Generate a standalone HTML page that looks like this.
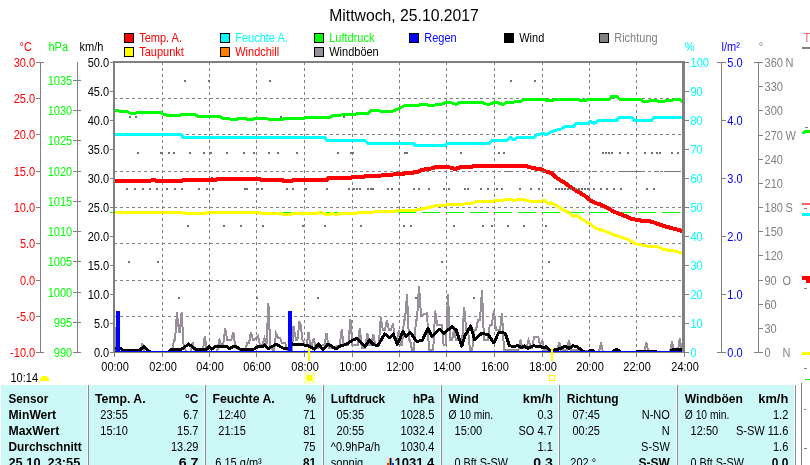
<!DOCTYPE html>
<html><head><meta charset="utf-8"><title>Mittwoch, 25.10.2017</title>
<style>
html,body{margin:0;padding:0;background:#fff;overflow:hidden}
svg{display:block;font-family:"Liberation Sans",Arial,sans-serif}
polyline,line,rect,circle,path{shape-rendering:crispEdges}
</style></head><body>
<svg width="810" height="465" viewBox="0 0 810 465">
<text x="404" y="20.6" fill="#000" font-size="16" text-anchor="middle" textLength="149.50" lengthAdjust="spacingAndGlyphs">Mittwoch, 25.10.2017</text>
<rect x="124.5" y="33.5" width="9" height="9" fill="#FF0000" stroke="#000" stroke-width="1"/>
<text x="139.2" y="42" fill="#FF0000" font-size="12.5" text-anchor="start" textLength="42.83" lengthAdjust="spacingAndGlyphs">Temp. A.</text>
<rect x="220.5" y="33.5" width="9" height="9" fill="#00FFFF" stroke="#000" stroke-width="1"/>
<text x="235.2" y="42" fill="#00FFFF" font-size="12.5" text-anchor="start" textLength="52.64" lengthAdjust="spacingAndGlyphs">Feuchte A.</text>
<rect x="314.5" y="33.5" width="9" height="9" fill="#00FF00" stroke="#000" stroke-width="1"/>
<text x="329.2" y="42" fill="#00FF00" font-size="12.5" text-anchor="start" textLength="45.28" lengthAdjust="spacingAndGlyphs">Luftdruck</text>
<rect x="409.5" y="33.5" width="9" height="9" fill="#0000FF" stroke="#000" stroke-width="1"/>
<text x="424.2" y="42" fill="#0000FF" font-size="12.5" text-anchor="start" textLength="32.44" lengthAdjust="spacingAndGlyphs">Regen</text>
<rect x="504.5" y="33.5" width="9" height="9" fill="#000" stroke="#000" stroke-width="1"/>
<text x="519.2" y="42" fill="#000" font-size="12.5" text-anchor="start" textLength="25.06" lengthAdjust="spacingAndGlyphs">Wind</text>
<rect x="599.5" y="33.5" width="9" height="9" fill="#808080" stroke="#000" stroke-width="1"/>
<text x="614.2" y="42" fill="#808080" font-size="12.5" text-anchor="start" textLength="43.44" lengthAdjust="spacingAndGlyphs">Richtung</text>
<rect x="124.5" y="47.5" width="9" height="9" fill="#FFFF00" stroke="#000" stroke-width="1"/>
<text x="139.2" y="56" fill="#FF0000" font-size="12.5" text-anchor="start" textLength="44.69" lengthAdjust="spacingAndGlyphs">Taupunkt</text>
<rect x="220.5" y="47.5" width="9" height="9" fill="#FF8000" stroke="#000" stroke-width="1"/>
<text x="235.2" y="56" fill="#FF0000" font-size="12.5" text-anchor="start" textLength="44.00" lengthAdjust="spacingAndGlyphs">Windchill</text>
<rect x="314.5" y="47.5" width="9" height="9" fill="#978F99" stroke="#000" stroke-width="1"/>
<text x="329.2" y="56" fill="#000" font-size="12.5" text-anchor="start" textLength="49.56" lengthAdjust="spacingAndGlyphs">Windböen</text>
<line x1="114" y1="98.5" x2="682" y2="98.5" stroke="#808080" stroke-width="1" stroke-dasharray="3 3" stroke-linecap="butt"/>
<line x1="114" y1="134.5" x2="682" y2="134.5" stroke="#808080" stroke-width="1" stroke-dasharray="3 3" stroke-linecap="butt"/>
<line x1="114" y1="171.5" x2="682" y2="171.5" stroke="#808080" stroke-width="1" stroke-dasharray="3 3" stroke-linecap="butt"/>
<line x1="114" y1="207.5" x2="682" y2="207.5" stroke="#808080" stroke-width="1" stroke-dasharray="3 3" stroke-linecap="butt"/>
<line x1="114" y1="243.5" x2="682" y2="243.5" stroke="#808080" stroke-width="1" stroke-dasharray="3 3" stroke-linecap="butt"/>
<line x1="114" y1="280.5" x2="682" y2="280.5" stroke="#808080" stroke-width="1" stroke-dasharray="3 3" stroke-linecap="butt"/>
<line x1="114" y1="316.5" x2="682" y2="316.5" stroke="#808080" stroke-width="1" stroke-dasharray="3 3" stroke-linecap="butt"/>
<line x1="162.5" y1="62" x2="162.5" y2="352" stroke="#808080" stroke-width="1" stroke-dasharray="3 3" stroke-linecap="butt"/>
<line x1="209.5" y1="62" x2="209.5" y2="352" stroke="#808080" stroke-width="1" stroke-dasharray="3 3" stroke-linecap="butt"/>
<line x1="256.5" y1="62" x2="256.5" y2="352" stroke="#808080" stroke-width="1" stroke-dasharray="3 3" stroke-linecap="butt"/>
<line x1="304.5" y1="62" x2="304.5" y2="352" stroke="#808080" stroke-width="1" stroke-dasharray="3 3" stroke-linecap="butt"/>
<line x1="352.5" y1="62" x2="352.5" y2="352" stroke="#808080" stroke-width="1" stroke-dasharray="3 3" stroke-linecap="butt"/>
<line x1="399.5" y1="62" x2="399.5" y2="352" stroke="#808080" stroke-width="1" stroke-dasharray="3 3" stroke-linecap="butt"/>
<line x1="446.5" y1="62" x2="446.5" y2="352" stroke="#808080" stroke-width="1" stroke-dasharray="3 3" stroke-linecap="butt"/>
<line x1="494.5" y1="62" x2="494.5" y2="352" stroke="#808080" stroke-width="1" stroke-dasharray="3 3" stroke-linecap="butt"/>
<line x1="542.5" y1="62" x2="542.5" y2="352" stroke="#808080" stroke-width="1" stroke-dasharray="3 3" stroke-linecap="butt"/>
<line x1="589.5" y1="62" x2="589.5" y2="352" stroke="#808080" stroke-width="1" stroke-dasharray="3 3" stroke-linecap="butt"/>
<line x1="636.5" y1="62" x2="636.5" y2="352" stroke="#808080" stroke-width="1" stroke-dasharray="3 3" stroke-linecap="butt"/>
<line x1="110" y1="212.5" x2="682" y2="212.5" stroke="#00FF00" stroke-width="1" stroke-dasharray="18 6" stroke-linecap="butt"/>
<defs><clipPath id="pc2"><rect x="115" y="63" width="567" height="289"/></clipPath></defs>
<g clip-path="url(#pc2)">
<polyline points="114.0,352.0 115.0,327.0 116.0,352.0 139.0,352.0 140.3,352.0 142.3,343.4 144.3,352.0 145.0,352.0 172.0,352.0 174.0,340.0 175.0,340.0 177.0,312.4 179.0,332.4 179.7,332.4 181.6,312.4 183.6,345.0 184.2,345.0 186.0,352.0 190.0,352.0 190.6,352.0 192.6,342.7 195.0,352.0 202.0,352.0 202.8,352.0 204.8,336.3 207.0,352.0 217.0,352.0 219.4,340.0 221.4,345.0 222.0,345.0 223.2,345.0 225.2,327.9 227.2,340.0 228.4,340.0 231.3,340.0 233.3,331.8 235.5,348.0 245.0,352.0 247.0,343.4 249.0,343.4 251.0,331.8 253.0,340.0 254.2,340.0 258.0,336.3 260.0,345.0 261.0,345.0 262.5,345.0 264.5,338.2 266.5,345.0 268.4,303.4 270.3,348.0 273.0,350.0 274.1,350.0 276.1,333.5 278.1,338.0 280.0,338.0 282.0,343.0 285.2,343.0 287.2,350.0 288.0,350.0 292.0,350.0 293.5,326.0 296.0,340.0 297.4,340.0 299.4,322.0 300.3,322.6 302.5,340.0 305.0,345.0 306.6,345.0 308.6,331.7 310.0,345.0 311.8,345.0 313.8,338.0 315.8,348.0 317.6,348.0 323.0,345.0 324.6,345.0 326.6,332.9 328.6,348.0 331.1,348.0 338.0,346.0 339.7,346.0 341.7,329.4 343.7,345.0 344.7,345.0 348.4,345.0 350.4,318.9 352.4,345.0 353.7,345.0 357.8,345.0 359.8,327.9 361.8,348.0 364.3,348.0 365.3,348.0 367.3,333.2 369.3,345.0 370.0,345.0 371.3,345.0 373.3,334.0 375.3,345.0 377.0,345.0 378.8,345.0 380.8,317.4 382.8,330.0 384.0,330.0 384.9,330.0 386.9,320.4 388.9,330.0 390.0,330.0 390.9,330.0 392.9,323.4 395.0,340.0 396.9,340.0 398.9,330.0 401.0,345.0 402.0,345.0 404.0,320.0 405.0,320.0 407.0,294.5 409.0,340.0 410.0,340.0 412.0,350.0 413.4,350.0 414.0,350.0 416.0,320.0 417.0,320.0 419.0,285.6 421.0,315.0 422.3,315.0 427.0,313.0 429.0,350.0 430.3,350.0 433.2,350.0 435.2,310.6 437.2,325.0 441.6,325.0 443.6,345.0 444.8,345.0 446.0,345.0 448.0,293.7 450.0,340.0 451.3,340.0 452.0,340.0 454.0,330.0 456.0,340.0 457.7,340.0 462.2,340.0 464.2,307.4 466.2,330.0 468.0,330.0 470.0,350.0 472.3,350.0 473.9,330.0 476.0,330.0 478.0,320.0 480.0,320.0 482.0,289.7 484.0,340.0 485.2,340.0 487.8,340.0 489.8,325.0 491.9,325.0 493.9,309.8 495.9,330.0 497.9,330.0 500.0,330.0 502.0,313.0 504.0,350.0 506.0,350.0 515.0,350.0 518.5,350.0 520.5,339.7 522.5,348.0 524.0,348.0 526.5,348.0 528.5,340.0 531.0,348.0 532.2,348.0 534.2,336.5 538.2,336.5 540.0,345.0 542.3,340.5 544.3,350.0 545.0,350.0 556.0,350.0 557.2,350.0 559.2,342.0 561.2,350.0 562.0,350.0 566.0,350.0 566.9,350.0 568.9,340.5 571.0,350.0 598.0,352.0 599.0,352.0 601.0,342.3 603.0,352.0 604.0,352.0 643.0,352.0 644.3,352.0 646.3,342.3 648.3,352.0 649.0,352.0 669.0,352.0 670.0,352.0 672.0,341.0 674.0,352.0 675.0,352.0 677.0,352.0 677.8,352.0 679.8,338.5 682.0,352.0" fill="none" stroke="#978F99" stroke-width="2" stroke-linejoin="miter" stroke-linecap="butt"/>
</g>
<defs><clipPath id="pc"><rect x="115" y="63" width="567" height="289"/></clipPath></defs><g clip-path="url(#pc)">
<polyline points="114.0,134.6 181.0,134.6 183.0,137.2 324.7,137.2 327.0,140.5 365.3,140.5 368.0,143.2 413.0,143.4 416.0,145.8 444.3,145.8 447.0,143.4 489.3,143.4 492.0,140.3 507.0,140.3 510.4,137.2 513.8,140.0 517.3,137.2 534.6,137.2 537.0,134.8 543.0,133.4 546.7,134.8 550.0,132.5 555.3,130.3 561.4,129.0 564.8,126.8 573.5,126.8 576.0,123.4 588.0,123.4 590.0,121.3 594.2,123.4 598.5,120.6 616.7,120.4 619.4,117.2 631.7,117.2 634.0,120.3 651.7,120.3 654.4,117.2 683.0,117.2" fill="none" stroke="#00FFFF" stroke-width="3" stroke-linejoin="round" stroke-linecap="round"/>
<polyline points="114.0,110.4 118.0,110.4 120.0,111.6 127.0,111.6 130.0,113.0 136.0,113.0 138.0,112.0 160.0,112.0 163.0,114.0 167.0,115.2 180.0,115.2 182.0,114.2 194.0,114.2 198.0,116.3 220.0,116.3 222.0,118.0 228.0,118.0 231.0,119.4 237.0,119.4 239.6,118.0 245.0,118.0 247.0,119.4 253.0,119.4 255.5,118.0 266.0,118.0 269.4,119.7 283.0,119.7 285.0,118.0 305.0,118.0 309.0,117.3 330.0,117.3 333.0,115.6 340.0,115.6 342.0,114.5 355.0,114.5 357.5,113.3 368.0,113.3 371.3,110.7 380.0,111.0 385.6,111.3 393.0,111.0 397.6,109.2 402.0,107.0 404.6,105.7 418.0,105.7 420.0,104.4 426.0,104.4 428.8,105.4 434.0,105.4 437.4,104.0 442.0,104.0 446.0,102.3 450.0,102.3 454.7,104.0 457.0,104.0 460.0,102.3 482.3,102.3 485.8,104.0 490.0,104.0 492.7,102.8 498.0,102.8 501.4,104.0 504.0,104.0 507.0,102.3 513.0,102.3 515.6,101.4 521.0,101.4 524.2,99.2 545.0,99.2 547.0,100.9 552.0,100.9 555.3,99.2 577.8,99.2 580.0,100.2 586.0,100.2 588.0,99.2 609.4,99.2 611.7,96.1 616.7,96.1 619.4,99.2 640.0,99.2 642.8,101.1 648.9,101.1 651.0,100.0 655.6,100.0 657.8,101.1 665.0,101.1 666.7,100.0 673.3,100.0 674.4,99.2 680.0,99.2 682.8,101.7" fill="none" stroke="#00FF00" stroke-width="3" stroke-linejoin="round" stroke-linecap="round"/>
<polyline points="114.0,212.2 181.7,212.2 183.0,213.0 206.8,213.0 208.0,212.0 210.0,213.0 212.0,212.0 214.0,213.0 215.0,212.2 260.0,212.2 261.0,213.2 282.0,213.2 283.0,214.2 291.0,214.2 292.0,213.2 318.0,213.2 320.0,212.0 322.0,213.2 325.0,214.2 330.0,214.2 331.0,213.2 335.0,214.2 338.0,214.2 339.0,213.2 357.0,213.2 359.0,212.0 362.0,213.0 365.0,212.5 370.0,212.2 387.0,211.4 400.2,210.8 413.2,210.8 418.4,209.6 427.0,207.9 435.7,205.7 446.0,205.0 456.4,204.4 472.0,203.6 475.4,201.8 491.0,201.2 500.0,200.6 507.5,199.4 512.0,199.7 515.0,201.0 518.0,199.4 524.0,199.6 528.6,201.0 542.2,201.0 544.4,200.2 548.2,203.5 551.2,202.9 556.5,205.5 563.3,210.0 569.3,213.0 573.8,216.4 576.8,215.5 582.8,219.8 590.4,224.0 596.0,228.4 603.6,230.7 611.0,233.7 620.1,237.0 629.2,239.7 634.4,243.5 647.2,246.0 657.8,246.9 663.8,249.5 674.3,251.0 682.6,253.3" fill="none" stroke="#FFFF00" stroke-width="3" stroke-linejoin="round" stroke-linecap="round"/>
<polyline points="114.0,181.0 150.0,181.0 152.0,180.0 155.0,180.0 156.0,181.0 181.7,181.0 183.0,180.2 210.0,180.2 212.0,179.0 214.0,180.2 216.0,180.0 218.0,178.8 259.9,178.8 261.0,179.9 282.3,179.9 283.0,180.7 291.8,180.7 293.0,180.0 326.4,180.0 328.0,178.1 350.6,178.1 352.0,177.3 363.6,177.3 365.0,176.4 374.0,176.4 376.0,175.6 380.4,175.6 390.7,174.7 407.0,173.3 417.5,172.0 421.8,169.9 430.5,168.7 436.5,166.8 446.0,166.8 451.2,167.8 455.5,169.0 459.9,167.3 472.0,167.0 473.7,165.9 525.6,165.8 530.0,167.3 536.0,168.6 541.4,169.3 545.2,171.3 551.2,173.0 557.2,178.3 564.8,182.9 572.3,188.4 578.3,191.9 584.3,195.4 590.4,200.3 596.4,203.3 600.5,204.6 606.6,207.3 614.1,211.8 620.1,214.1 626.1,216.4 630.7,218.6 636.7,219.8 642.7,220.9 651.7,221.6 657.8,223.9 663.8,226.1 672.8,228.4 682.6,231.0" fill="none" stroke="#FF0000" stroke-width="4" stroke-linejoin="round" stroke-linecap="round"/>
<polyline points="114.0,348.5 121.0,348.5 123.0,350.8 139.0,350.8 143.8,346.6 148.7,350.8 151.0,352.5 168.0,352.5 170.6,350.5 172.0,349.0 182.0,349.0 188.7,344.0 195.0,349.0 207.0,349.0 209.0,346.6 211.6,349.0 216.0,346.0 225.8,346.0 229.7,348.5 234.8,346.0 240.0,349.0 254.2,349.0 258.0,346.4 263.2,346.4 264.5,344.7 268.4,348.5 276.0,344.3 282.6,347.9 287.7,349.0 292.0,343.8 295.0,344.5 307.0,345.2 314.6,349.0 318.3,344.0 322.9,349.5 328.1,344.0 335.7,349.0 340.2,346.0 346.2,344.5 352.2,340.4 356.7,338.5 365.0,346.7 369.5,340.0 373.3,344.5 377.8,346.0 384.6,334.0 389.9,337.7 393.2,334.0 397.3,344.5 402.9,331.6 406.1,336.5 410.2,332.4 416.6,341.3 422.3,340.5 427.9,328.4 431.9,336.5 439.2,329.2 444.0,333.2 452.0,326.8 456.1,330.0 461.8,346.1 465.0,335.6 470.6,326.0 474.7,339.7 481.9,333.2 488.2,334.8 493.9,342.9 498.7,332.4 505.2,333.2 509.2,345.3 513.2,347.0 518.0,345.3 521.3,347.7 524.5,346.0 527.7,348.5 533.4,345.8 539.8,346.5 543.9,347.7 546.3,346.5 549.5,350.2 554.4,350.0 560.8,348.5 565.6,346.1 568.9,348.5 572.9,345.8 577.7,347.0 581.8,350.2 585.0,352.5 588.0,352.5 590.0,350.8 593.0,350.8 595.0,352.5 612.0,352.5 614.0,350.5 616.0,349.5 619.0,350.5 621.0,352.5 636.0,352.5 637.0,351.2 655.0,351.2 657.0,352.5 670.0,352.5 672.0,350.0 675.0,349.0 680.0,349.5 683.0,349.5" fill="none" stroke="#000" stroke-width="3" stroke-linejoin="round" stroke-linecap="round"/>
</g>
<rect x="137" y="152" width="2" height="2" fill="#707070"/>
<rect x="160" y="152" width="2" height="2" fill="#707070"/>
<rect x="168" y="152" width="2" height="2" fill="#707070"/>
<rect x="173" y="152" width="2" height="2" fill="#707070"/>
<rect x="189" y="152" width="2" height="2" fill="#707070"/>
<rect x="203" y="152" width="2" height="2" fill="#707070"/>
<rect x="210" y="152" width="2" height="2" fill="#707070"/>
<rect x="226" y="152" width="2" height="2" fill="#707070"/>
<rect x="243" y="152" width="2" height="2" fill="#707070"/>
<rect x="253" y="152" width="2" height="2" fill="#707070"/>
<rect x="268" y="152" width="2" height="2" fill="#707070"/>
<rect x="277" y="152" width="2" height="2" fill="#707070"/>
<rect x="296" y="152" width="2" height="2" fill="#707070"/>
<rect x="337" y="152" width="2" height="2" fill="#707070"/>
<rect x="350" y="152" width="2" height="2" fill="#707070"/>
<rect x="352" y="152" width="2" height="2" fill="#707070"/>
<rect x="404" y="152" width="2" height="2" fill="#707070"/>
<rect x="406" y="152" width="2" height="2" fill="#707070"/>
<rect x="460" y="152" width="2" height="2" fill="#707070"/>
<rect x="498" y="152" width="2" height="2" fill="#707070"/>
<rect x="503" y="152" width="2" height="2" fill="#707070"/>
<rect x="602" y="152" width="2" height="2" fill="#707070"/>
<rect x="605" y="152" width="2" height="2" fill="#707070"/>
<rect x="608" y="152" width="2" height="2" fill="#707070"/>
<rect x="611" y="152" width="2" height="2" fill="#707070"/>
<rect x="619" y="152" width="2" height="2" fill="#707070"/>
<rect x="627" y="152" width="2" height="2" fill="#707070"/>
<rect x="644" y="152" width="2" height="2" fill="#707070"/>
<rect x="651" y="152" width="2" height="2" fill="#707070"/>
<rect x="656" y="152" width="2" height="2" fill="#707070"/>
<rect x="659" y="152" width="2" height="2" fill="#707070"/>
<rect x="671" y="152" width="2" height="2" fill="#707070"/>
<rect x="677" y="152" width="2" height="2" fill="#707070"/>
<rect x="126" y="188" width="2" height="2" fill="#707070"/>
<rect x="134" y="188" width="2" height="2" fill="#707070"/>
<rect x="142" y="188" width="2" height="2" fill="#707070"/>
<rect x="149" y="188" width="2" height="2" fill="#707070"/>
<rect x="156" y="188" width="2" height="2" fill="#707070"/>
<rect x="166" y="188" width="2" height="2" fill="#707070"/>
<rect x="174" y="188" width="2" height="2" fill="#707070"/>
<rect x="181" y="188" width="2" height="2" fill="#707070"/>
<rect x="198" y="188" width="2" height="2" fill="#707070"/>
<rect x="206" y="188" width="2" height="2" fill="#707070"/>
<rect x="212" y="188" width="2" height="2" fill="#707070"/>
<rect x="244" y="188" width="2" height="2" fill="#707070"/>
<rect x="246" y="188" width="2" height="2" fill="#707070"/>
<rect x="257" y="188" width="2" height="2" fill="#707070"/>
<rect x="261" y="188" width="2" height="2" fill="#707070"/>
<rect x="286" y="188" width="2" height="2" fill="#707070"/>
<rect x="292" y="188" width="2" height="2" fill="#707070"/>
<rect x="305" y="188" width="2" height="2" fill="#707070"/>
<rect x="326" y="188" width="2" height="2" fill="#707070"/>
<rect x="348" y="188" width="2" height="2" fill="#707070"/>
<rect x="353" y="188" width="2" height="2" fill="#707070"/>
<rect x="356" y="188" width="2" height="2" fill="#707070"/>
<rect x="359" y="188" width="2" height="2" fill="#707070"/>
<rect x="367" y="188" width="2" height="2" fill="#707070"/>
<rect x="370" y="188" width="2" height="2" fill="#707070"/>
<rect x="372" y="188" width="2" height="2" fill="#707070"/>
<rect x="387" y="188" width="2" height="2" fill="#707070"/>
<rect x="391" y="188" width="2" height="2" fill="#707070"/>
<rect x="398" y="188" width="2" height="2" fill="#707070"/>
<rect x="413" y="188" width="2" height="2" fill="#707070"/>
<rect x="418" y="188" width="2" height="2" fill="#707070"/>
<rect x="428" y="188" width="2" height="2" fill="#707070"/>
<rect x="443" y="188" width="2" height="2" fill="#707070"/>
<rect x="448" y="188" width="2" height="2" fill="#707070"/>
<rect x="464" y="188" width="2" height="2" fill="#707070"/>
<rect x="467" y="188" width="2" height="2" fill="#707070"/>
<rect x="480" y="188" width="2" height="2" fill="#707070"/>
<rect x="487" y="188" width="2" height="2" fill="#707070"/>
<rect x="496" y="188" width="2" height="2" fill="#707070"/>
<rect x="501" y="188" width="2" height="2" fill="#707070"/>
<rect x="519" y="188" width="2" height="2" fill="#707070"/>
<rect x="530" y="188" width="2" height="2" fill="#707070"/>
<rect x="538" y="188" width="2" height="2" fill="#707070"/>
<rect x="555" y="188" width="2" height="2" fill="#707070"/>
<rect x="558" y="188" width="2" height="2" fill="#707070"/>
<rect x="561" y="188" width="2" height="2" fill="#707070"/>
<rect x="564" y="188" width="2" height="2" fill="#707070"/>
<rect x="567" y="188" width="2" height="2" fill="#707070"/>
<rect x="570" y="188" width="2" height="2" fill="#707070"/>
<rect x="575" y="188" width="2" height="2" fill="#707070"/>
<rect x="578" y="188" width="2" height="2" fill="#707070"/>
<rect x="581" y="188" width="2" height="2" fill="#707070"/>
<rect x="584" y="188" width="2" height="2" fill="#707070"/>
<rect x="587" y="188" width="2" height="2" fill="#707070"/>
<rect x="593" y="188" width="2" height="2" fill="#707070"/>
<rect x="600" y="188" width="2" height="2" fill="#707070"/>
<rect x="606" y="188" width="2" height="2" fill="#707070"/>
<rect x="613" y="188" width="2" height="2" fill="#707070"/>
<rect x="620" y="188" width="2" height="2" fill="#707070"/>
<rect x="646" y="188" width="2" height="2" fill="#707070"/>
<rect x="653" y="188" width="2" height="2" fill="#707070"/>
<rect x="184" y="80" width="2" height="2" fill="#707070"/>
<rect x="208" y="80" width="2" height="2" fill="#707070"/>
<rect x="269" y="80" width="2" height="2" fill="#707070"/>
<rect x="510" y="80" width="2" height="2" fill="#707070"/>
<rect x="534" y="80" width="2" height="2" fill="#707070"/>
<rect x="129" y="116" width="2" height="2" fill="#707070"/>
<rect x="135" y="116" width="2" height="2" fill="#707070"/>
<rect x="280" y="116" width="2" height="2" fill="#707070"/>
<rect x="343" y="116" width="2" height="2" fill="#707070"/>
<rect x="187" y="225" width="2" height="2" fill="#707070"/>
<rect x="223" y="225" width="2" height="2" fill="#707070"/>
<rect x="240" y="225" width="2" height="2" fill="#707070"/>
<rect x="262" y="225" width="2" height="2" fill="#707070"/>
<rect x="302" y="225" width="2" height="2" fill="#707070"/>
<rect x="324" y="225" width="2" height="2" fill="#707070"/>
<rect x="360" y="225" width="2" height="2" fill="#707070"/>
<rect x="403" y="225" width="2" height="2" fill="#707070"/>
<rect x="410" y="225" width="2" height="2" fill="#707070"/>
<rect x="453" y="225" width="2" height="2" fill="#707070"/>
<rect x="482" y="225" width="2" height="2" fill="#707070"/>
<rect x="491" y="225" width="2" height="2" fill="#707070"/>
<rect x="507" y="225" width="2" height="2" fill="#707070"/>
<rect x="523" y="225" width="2" height="2" fill="#707070"/>
<rect x="545" y="225" width="2" height="2" fill="#707070"/>
<rect x="128" y="261" width="2" height="2" fill="#707070"/>
<rect x="157" y="261" width="2" height="2" fill="#707070"/>
<rect x="441" y="261" width="2" height="2" fill="#707070"/>
<rect x="548" y="261" width="2" height="2" fill="#707070"/>
<rect x="178" y="297" width="2" height="2" fill="#707070"/>
<rect x="256" y="297" width="2" height="2" fill="#707070"/>
<rect x="317" y="297" width="2" height="2" fill="#707070"/>
<rect x="415" y="297" width="2" height="2" fill="#707070"/>
<rect x="473" y="297" width="2" height="2" fill="#707070"/>
<rect x="569" y="171" width="6" height="1" fill="#777777"/>
<rect x="592" y="171" width="4" height="1" fill="#777777"/>
<rect x="621" y="171" width="21" height="1" fill="#777777"/>
<rect x="655" y="171" width="4" height="1" fill="#777777"/>
<rect x="664" y="171" width="17" height="1" fill="#777777"/>
<rect x="505" y="171" width="7" height="1" fill="#777777"/>
<rect x="540" y="171" width="6" height="1" fill="#777777"/>
<rect x="114" y="351" width="571" height="1" fill="#0000FF"/>
<rect x="116" y="311" width="4" height="41" fill="#0000FF"/>
<rect x="288" y="311" width="4" height="41" fill="#0000FF"/>
<rect x="113" y="61" width="572" height="2" fill="#808080"/>
<rect x="113" y="62" width="2" height="291" fill="#808080"/>
<rect x="682" y="61" width="3" height="292" fill="#808080"/>
<rect x="115" y="352" width="567" height="1" fill="#8A8A66"/>
<text x="19.5" y="51" fill="#FF0000" font-size="12.5" text-anchor="start" textLength="12.34" lengthAdjust="spacingAndGlyphs">°C</text>
<text x="48.5" y="51" fill="#00FF00" font-size="12.5" text-anchor="start" textLength="19.59" lengthAdjust="spacingAndGlyphs">hPa</text>
<text x="79.5" y="51" fill="#000" font-size="12.5" text-anchor="start" textLength="23.84" lengthAdjust="spacingAndGlyphs">km/h</text>
<rect x="40" y="62" width="1" height="291" fill="#808080"/>
<rect x="36" y="62" width="8" height="1" fill="#808080"/>
<rect x="36" y="352" width="8" height="1" fill="#808080"/>
<text x="35.2" y="67" fill="#FF0000" font-size="12.5" text-anchor="end" textLength="21.44" lengthAdjust="spacingAndGlyphs">30.0</text>
<rect x="36" y="98" width="4" height="1" fill="#808080"/>
<text x="35.2" y="103" fill="#FF0000" font-size="12.5" text-anchor="end" textLength="21.44" lengthAdjust="spacingAndGlyphs">25.0</text>
<rect x="36" y="134" width="4" height="1" fill="#808080"/>
<text x="35.2" y="139" fill="#FF0000" font-size="12.5" text-anchor="end" textLength="21.44" lengthAdjust="spacingAndGlyphs">20.0</text>
<rect x="36" y="171" width="4" height="1" fill="#808080"/>
<text x="35.2" y="176" fill="#FF0000" font-size="12.5" text-anchor="end" textLength="21.44" lengthAdjust="spacingAndGlyphs">15.0</text>
<rect x="36" y="207" width="4" height="1" fill="#808080"/>
<text x="35.2" y="212" fill="#FF0000" font-size="12.5" text-anchor="end" textLength="21.44" lengthAdjust="spacingAndGlyphs">10.0</text>
<rect x="36" y="243" width="4" height="1" fill="#808080"/>
<text x="35.2" y="248" fill="#FF0000" font-size="12.5" text-anchor="end" textLength="15.31" lengthAdjust="spacingAndGlyphs">5.0</text>
<rect x="36" y="280" width="4" height="1" fill="#808080"/>
<text x="35.2" y="285" fill="#FF0000" font-size="12.5" text-anchor="end" textLength="15.31" lengthAdjust="spacingAndGlyphs">0.0</text>
<rect x="36" y="316" width="4" height="1" fill="#808080"/>
<text x="35.2" y="321" fill="#FF0000" font-size="12.5" text-anchor="end" textLength="18.97" lengthAdjust="spacingAndGlyphs">-5.0</text>
<text x="35.2" y="357" fill="#FF0000" font-size="12.5" text-anchor="end" textLength="25.09" lengthAdjust="spacingAndGlyphs">-10.0</text>
<rect x="77" y="62" width="1" height="291" fill="#808080"/>
<rect x="73" y="352" width="8" height="1" fill="#808080"/>
<text x="72.2" y="357" fill="#00FF00" font-size="12.5" text-anchor="end" textLength="18.38" lengthAdjust="spacingAndGlyphs">990</text>
<rect x="73" y="322" width="8" height="1" fill="#808080"/>
<text x="72.2" y="327" fill="#00FF00" font-size="12.5" text-anchor="end" textLength="18.38" lengthAdjust="spacingAndGlyphs">995</text>
<rect x="73" y="292" width="8" height="1" fill="#808080"/>
<text x="72.2" y="297" fill="#00FF00" font-size="12.5" text-anchor="end" textLength="24.50" lengthAdjust="spacingAndGlyphs">1000</text>
<rect x="73" y="261" width="8" height="1" fill="#808080"/>
<text x="72.2" y="266" fill="#00FF00" font-size="12.5" text-anchor="end" textLength="24.50" lengthAdjust="spacingAndGlyphs">1005</text>
<rect x="73" y="231" width="8" height="1" fill="#808080"/>
<text x="72.2" y="236" fill="#00FF00" font-size="12.5" text-anchor="end" textLength="24.50" lengthAdjust="spacingAndGlyphs">1010</text>
<rect x="73" y="201" width="8" height="1" fill="#808080"/>
<text x="72.2" y="206" fill="#00FF00" font-size="12.5" text-anchor="end" textLength="24.50" lengthAdjust="spacingAndGlyphs">1015</text>
<rect x="73" y="171" width="8" height="1" fill="#808080"/>
<text x="72.2" y="176" fill="#00FF00" font-size="12.5" text-anchor="end" textLength="24.50" lengthAdjust="spacingAndGlyphs">1020</text>
<rect x="73" y="140" width="8" height="1" fill="#808080"/>
<text x="72.2" y="145" fill="#00FF00" font-size="12.5" text-anchor="end" textLength="24.50" lengthAdjust="spacingAndGlyphs">1025</text>
<rect x="73" y="110" width="8" height="1" fill="#808080"/>
<text x="72.2" y="115" fill="#00FF00" font-size="12.5" text-anchor="end" textLength="24.50" lengthAdjust="spacingAndGlyphs">1030</text>
<rect x="73" y="80" width="8" height="1" fill="#808080"/>
<text x="72.2" y="85" fill="#00FF00" font-size="12.5" text-anchor="end" textLength="24.50" lengthAdjust="spacingAndGlyphs">1035</text>
<rect x="110" y="62" width="3" height="1" fill="#808080"/>
<text x="109.2" y="67" fill="#000" font-size="12.5" text-anchor="end" textLength="21.44" lengthAdjust="spacingAndGlyphs">50.0</text>
<rect x="110" y="91" width="3" height="1" fill="#808080"/>
<text x="109.2" y="96" fill="#000" font-size="12.5" text-anchor="end" textLength="21.44" lengthAdjust="spacingAndGlyphs">45.0</text>
<rect x="110" y="120" width="3" height="1" fill="#808080"/>
<text x="109.2" y="125" fill="#000" font-size="12.5" text-anchor="end" textLength="21.44" lengthAdjust="spacingAndGlyphs">40.0</text>
<rect x="110" y="149" width="3" height="1" fill="#808080"/>
<text x="109.2" y="154" fill="#000" font-size="12.5" text-anchor="end" textLength="21.44" lengthAdjust="spacingAndGlyphs">35.0</text>
<rect x="110" y="178" width="3" height="1" fill="#808080"/>
<text x="109.2" y="183" fill="#000" font-size="12.5" text-anchor="end" textLength="21.44" lengthAdjust="spacingAndGlyphs">30.0</text>
<rect x="110" y="207" width="3" height="1" fill="#808080"/>
<text x="109.2" y="212" fill="#000" font-size="12.5" text-anchor="end" textLength="21.44" lengthAdjust="spacingAndGlyphs">25.0</text>
<rect x="110" y="236" width="3" height="1" fill="#808080"/>
<text x="109.2" y="241" fill="#000" font-size="12.5" text-anchor="end" textLength="21.44" lengthAdjust="spacingAndGlyphs">20.0</text>
<rect x="110" y="265" width="3" height="1" fill="#808080"/>
<text x="109.2" y="270" fill="#000" font-size="12.5" text-anchor="end" textLength="21.44" lengthAdjust="spacingAndGlyphs">15.0</text>
<rect x="110" y="294" width="3" height="1" fill="#808080"/>
<text x="109.2" y="299" fill="#000" font-size="12.5" text-anchor="end" textLength="21.44" lengthAdjust="spacingAndGlyphs">10.0</text>
<rect x="110" y="323" width="3" height="1" fill="#808080"/>
<text x="109.2" y="328" fill="#000" font-size="12.5" text-anchor="end" textLength="15.31" lengthAdjust="spacingAndGlyphs">5.0</text>
<rect x="110" y="352" width="3" height="1" fill="#808080"/>
<text x="109.2" y="357" fill="#000" font-size="12.5" text-anchor="end" textLength="15.31" lengthAdjust="spacingAndGlyphs">0.0</text>
<rect x="114" y="353" width="1" height="4" fill="#808080"/>
<text x="115.1" y="371" fill="#000" font-size="12.5" text-anchor="middle" textLength="27.56" lengthAdjust="spacingAndGlyphs">00:00</text>
<rect x="162" y="353" width="1" height="4" fill="#808080"/>
<text x="163.1" y="371" fill="#000" font-size="12.5" text-anchor="middle" textLength="27.56" lengthAdjust="spacingAndGlyphs">02:00</text>
<rect x="209" y="353" width="1" height="4" fill="#808080"/>
<text x="210.1" y="371" fill="#000" font-size="12.5" text-anchor="middle" textLength="27.56" lengthAdjust="spacingAndGlyphs">04:00</text>
<rect x="256" y="353" width="1" height="4" fill="#808080"/>
<text x="257.1" y="371" fill="#000" font-size="12.5" text-anchor="middle" textLength="27.56" lengthAdjust="spacingAndGlyphs">06:00</text>
<rect x="304" y="353" width="1" height="4" fill="#808080"/>
<text x="305.1" y="371" fill="#000" font-size="12.5" text-anchor="middle" textLength="27.56" lengthAdjust="spacingAndGlyphs">08:00</text>
<rect x="352" y="353" width="1" height="4" fill="#808080"/>
<text x="353.1" y="371" fill="#000" font-size="12.5" text-anchor="middle" textLength="27.56" lengthAdjust="spacingAndGlyphs">10:00</text>
<rect x="399" y="353" width="1" height="4" fill="#808080"/>
<text x="400.1" y="371" fill="#000" font-size="12.5" text-anchor="middle" textLength="27.56" lengthAdjust="spacingAndGlyphs">12:00</text>
<rect x="446" y="353" width="1" height="4" fill="#808080"/>
<text x="447.1" y="371" fill="#000" font-size="12.5" text-anchor="middle" textLength="27.56" lengthAdjust="spacingAndGlyphs">14:00</text>
<rect x="494" y="353" width="1" height="4" fill="#808080"/>
<text x="495.1" y="371" fill="#000" font-size="12.5" text-anchor="middle" textLength="27.56" lengthAdjust="spacingAndGlyphs">16:00</text>
<rect x="542" y="353" width="1" height="4" fill="#808080"/>
<text x="543.1" y="371" fill="#000" font-size="12.5" text-anchor="middle" textLength="27.56" lengthAdjust="spacingAndGlyphs">18:00</text>
<rect x="589" y="353" width="1" height="4" fill="#808080"/>
<text x="590.1" y="371" fill="#000" font-size="12.5" text-anchor="middle" textLength="27.56" lengthAdjust="spacingAndGlyphs">20:00</text>
<rect x="636" y="353" width="1" height="4" fill="#808080"/>
<text x="637.1" y="371" fill="#000" font-size="12.5" text-anchor="middle" textLength="27.56" lengthAdjust="spacingAndGlyphs">22:00</text>
<rect x="684" y="353" width="1" height="4" fill="#808080"/>
<text x="685.1" y="371" fill="#000" font-size="12.5" text-anchor="middle" textLength="27.56" lengthAdjust="spacingAndGlyphs">24:00</text>
<text x="684.8" y="50.5" fill="#00FFFF" font-size="12.5" text-anchor="start" textLength="9.78" lengthAdjust="spacingAndGlyphs">%</text>
<text x="721.5" y="50.5" fill="#0000FF" font-size="12.5" text-anchor="start" textLength="18.31" lengthAdjust="spacingAndGlyphs">l/m²</text>
<text x="758.8" y="50.5" fill="#808080" font-size="12.5" text-anchor="start" textLength="4.41" lengthAdjust="spacingAndGlyphs">°</text>
<rect x="685" y="62" width="4" height="1" fill="#808080"/>
<text x="690.5" y="67" fill="#00FFFF" font-size="12.5" text-anchor="start" textLength="18.38" lengthAdjust="spacingAndGlyphs">100</text>
<rect x="685" y="91" width="4" height="1" fill="#808080"/>
<text x="690.5" y="96" fill="#00FFFF" font-size="12.5" text-anchor="start" textLength="12.25" lengthAdjust="spacingAndGlyphs">90</text>
<rect x="685" y="120" width="4" height="1" fill="#808080"/>
<text x="690.5" y="125" fill="#00FFFF" font-size="12.5" text-anchor="start" textLength="12.25" lengthAdjust="spacingAndGlyphs">80</text>
<rect x="685" y="149" width="4" height="1" fill="#808080"/>
<text x="690.5" y="154" fill="#00FFFF" font-size="12.5" text-anchor="start" textLength="12.25" lengthAdjust="spacingAndGlyphs">70</text>
<rect x="685" y="178" width="4" height="1" fill="#808080"/>
<text x="690.5" y="183" fill="#00FFFF" font-size="12.5" text-anchor="start" textLength="12.25" lengthAdjust="spacingAndGlyphs">60</text>
<rect x="685" y="207" width="4" height="1" fill="#808080"/>
<text x="690.5" y="212" fill="#00FFFF" font-size="12.5" text-anchor="start" textLength="12.25" lengthAdjust="spacingAndGlyphs">50</text>
<rect x="685" y="236" width="4" height="1" fill="#808080"/>
<text x="690.5" y="241" fill="#00FFFF" font-size="12.5" text-anchor="start" textLength="12.25" lengthAdjust="spacingAndGlyphs">40</text>
<rect x="685" y="265" width="4" height="1" fill="#808080"/>
<text x="690.5" y="270" fill="#00FFFF" font-size="12.5" text-anchor="start" textLength="12.25" lengthAdjust="spacingAndGlyphs">30</text>
<rect x="685" y="294" width="4" height="1" fill="#808080"/>
<text x="690.5" y="299" fill="#00FFFF" font-size="12.5" text-anchor="start" textLength="12.25" lengthAdjust="spacingAndGlyphs">20</text>
<rect x="685" y="323" width="4" height="1" fill="#808080"/>
<text x="690.5" y="328" fill="#00FFFF" font-size="12.5" text-anchor="start" textLength="12.25" lengthAdjust="spacingAndGlyphs">10</text>
<rect x="685" y="352" width="4" height="1" fill="#808080"/>
<text x="690.5" y="357" fill="#00FFFF" font-size="12.5" text-anchor="start" textLength="6.12" lengthAdjust="spacingAndGlyphs">0</text>
<rect x="721" y="62" width="1" height="291" fill="#808080"/>
<rect x="717" y="62" width="9" height="1" fill="#808080"/>
<rect x="717" y="352" width="9" height="1" fill="#808080"/>
<rect x="722" y="62" width="4" height="1" fill="#808080"/>
<text x="727.3" y="67" fill="#0000FF" font-size="12.5" text-anchor="start" textLength="15.31" lengthAdjust="spacingAndGlyphs">5.0</text>
<rect x="722" y="120" width="4" height="1" fill="#808080"/>
<text x="727.3" y="125" fill="#0000FF" font-size="12.5" text-anchor="start" textLength="15.31" lengthAdjust="spacingAndGlyphs">4.0</text>
<rect x="722" y="178" width="4" height="1" fill="#808080"/>
<text x="727.3" y="183" fill="#0000FF" font-size="12.5" text-anchor="start" textLength="15.31" lengthAdjust="spacingAndGlyphs">3.0</text>
<rect x="722" y="236" width="4" height="1" fill="#808080"/>
<text x="727.3" y="241" fill="#0000FF" font-size="12.5" text-anchor="start" textLength="15.31" lengthAdjust="spacingAndGlyphs">2.0</text>
<rect x="722" y="294" width="4" height="1" fill="#808080"/>
<text x="727.3" y="299" fill="#0000FF" font-size="12.5" text-anchor="start" textLength="15.31" lengthAdjust="spacingAndGlyphs">1.0</text>
<rect x="722" y="352" width="4" height="1" fill="#808080"/>
<text x="727.3" y="357" fill="#0000FF" font-size="12.5" text-anchor="start" textLength="15.31" lengthAdjust="spacingAndGlyphs">0.0</text>
<rect x="758" y="62" width="1" height="291" fill="#808080"/>
<rect x="754" y="62" width="9" height="1" fill="#808080"/>
<rect x="754" y="352" width="9" height="1" fill="#808080"/>
<rect x="759" y="62" width="4" height="1" fill="#808080"/>
<text x="764.5" y="67" fill="#808080" font-size="12.5" text-anchor="start" textLength="18.38" lengthAdjust="spacingAndGlyphs">360</text>
<text x="785.5" y="67" fill="#808080" font-size="12.5" text-anchor="start" textLength="7.94" lengthAdjust="spacingAndGlyphs">N</text>
<rect x="759" y="86" width="4" height="1" fill="#808080"/>
<text x="764.5" y="91" fill="#808080" font-size="12.5" text-anchor="start" textLength="18.38" lengthAdjust="spacingAndGlyphs">330</text>
<rect x="759" y="110" width="4" height="1" fill="#808080"/>
<text x="764.5" y="115" fill="#808080" font-size="12.5" text-anchor="start" textLength="18.38" lengthAdjust="spacingAndGlyphs">300</text>
<rect x="759" y="135" width="4" height="1" fill="#808080"/>
<text x="764.5" y="140" fill="#808080" font-size="12.5" text-anchor="start" textLength="18.38" lengthAdjust="spacingAndGlyphs">270</text>
<text x="785.5" y="140" fill="#808080" font-size="12.5" text-anchor="start" textLength="10.38" lengthAdjust="spacingAndGlyphs">W</text>
<rect x="759" y="159" width="4" height="1" fill="#808080"/>
<text x="764.5" y="164" fill="#808080" font-size="12.5" text-anchor="start" textLength="18.38" lengthAdjust="spacingAndGlyphs">240</text>
<rect x="759" y="183" width="4" height="1" fill="#808080"/>
<text x="764.5" y="188" fill="#808080" font-size="12.5" text-anchor="start" textLength="18.38" lengthAdjust="spacingAndGlyphs">210</text>
<rect x="759" y="207" width="4" height="1" fill="#808080"/>
<text x="764.5" y="212" fill="#808080" font-size="12.5" text-anchor="start" textLength="18.38" lengthAdjust="spacingAndGlyphs">180</text>
<text x="785.5" y="212" fill="#808080" font-size="12.5" text-anchor="start" textLength="7.34" lengthAdjust="spacingAndGlyphs">S</text>
<rect x="759" y="231" width="4" height="1" fill="#808080"/>
<text x="764.5" y="236" fill="#808080" font-size="12.5" text-anchor="start" textLength="18.38" lengthAdjust="spacingAndGlyphs">150</text>
<rect x="759" y="255" width="4" height="1" fill="#808080"/>
<text x="764.5" y="260" fill="#808080" font-size="12.5" text-anchor="start" textLength="18.38" lengthAdjust="spacingAndGlyphs">120</text>
<rect x="759" y="280" width="4" height="1" fill="#808080"/>
<text x="764.5" y="285" fill="#808080" font-size="12.5" text-anchor="start" textLength="12.25" lengthAdjust="spacingAndGlyphs">90</text>
<text x="782.5" y="285" fill="#808080" font-size="12.5" text-anchor="start" textLength="8.56" lengthAdjust="spacingAndGlyphs">O</text>
<rect x="759" y="304" width="4" height="1" fill="#808080"/>
<text x="764.5" y="309" fill="#808080" font-size="12.5" text-anchor="start" textLength="12.25" lengthAdjust="spacingAndGlyphs">60</text>
<rect x="759" y="328" width="4" height="1" fill="#808080"/>
<text x="764.5" y="333" fill="#808080" font-size="12.5" text-anchor="start" textLength="12.25" lengthAdjust="spacingAndGlyphs">30</text>
<rect x="759" y="352" width="4" height="1" fill="#808080"/>
<text x="764.5" y="357" fill="#808080" font-size="12.5" text-anchor="start" textLength="6.12" lengthAdjust="spacingAndGlyphs">0</text>
<text x="782.5" y="357" fill="#808080" font-size="12.5" text-anchor="start" textLength="7.94" lengthAdjust="spacingAndGlyphs">N</text>
<text x="803.5" y="42" fill="#FF6060" font-size="12.5" text-anchor="start" textLength="6.72" lengthAdjust="spacingAndGlyphs">T</text>
<rect x="802" y="47" width="8" height="2" fill="#808080"/>
<polyline points="803,134 805,131.5 810,131.5" fill="none" stroke="#00FF00" stroke-width="3"/>
<rect x="805" y="127" width="3" height="1" fill="#808080"/>
<rect x="802" y="203" width="8" height="2" fill="#FF6060"/>
<rect x="804" y="208" width="3" height="1" fill="#808080"/>
<rect x="802" y="213" width="8" height="3" fill="#00FFFF"/>
<rect x="802" y="276" width="8" height="4" fill="#FF0000"/>
<rect x="806" y="280" width="4" height="3" fill="#FF0000"/>
<rect x="804" y="288" width="3" height="1" fill="#808080"/>
<rect x="802" y="352" width="8" height="3" fill="#FFFF00"/>
<rect x="804" y="368" width="3" height="1" fill="#808080"/>
<rect x="805" y="379" width="5" height="1" fill="#00FF00"/>
<rect x="308" y="348" width="2" height="13" fill="#FFFF00"/>
<rect x="551" y="348" width="2" height="13" fill="#FFFF00"/>
<g stroke="#FFFF99" stroke-width="1" fill="none" style="shape-rendering:auto"><circle cx="309.5" cy="378" r="5.3"/><line x1="304" y1="372.5" x2="315" y2="383.5"/><line x1="315" y1="372.5" x2="304" y2="383.5"/></g>
<circle cx="309.5" cy="378" r="3.3" fill="#FFFF00" style="shape-rendering:auto"/>
<rect x="549.5" y="375.5" width="5" height="5" fill="none" stroke="#FFFF00" stroke-width="1"/>
<text x="10.5" y="382" fill="#000" font-size="12.5" text-anchor="start" textLength="27.56" lengthAdjust="spacingAndGlyphs">10:14</text>
<path d="M40,380.5 A4.5,5 0 0 1 49,380.5 Z" fill="#FFFF00"/>
<rect x="1" y="385" width="794" height="80" fill="#CDF8F8"/>
<rect x="87" y="385" width="1" height="80" fill="#FFFFFF"/>
<rect x="88" y="385" width="1" height="80" fill="#8E8A92"/>
<rect x="204" y="385" width="1" height="80" fill="#FFFFFF"/>
<rect x="205" y="385" width="1" height="80" fill="#8E8A92"/>
<rect x="322" y="385" width="1" height="80" fill="#FFFFFF"/>
<rect x="323" y="385" width="1" height="80" fill="#8E8A92"/>
<rect x="440" y="385" width="1" height="80" fill="#FFFFFF"/>
<rect x="441" y="385" width="1" height="80" fill="#8E8A92"/>
<rect x="558" y="385" width="1" height="80" fill="#FFFFFF"/>
<rect x="559" y="385" width="1" height="80" fill="#8E8A92"/>
<rect x="676" y="385" width="1" height="80" fill="#FFFFFF"/>
<rect x="677" y="385" width="1" height="80" fill="#8E8A92"/>
<rect x="794" y="385" width="1" height="80" fill="#FFFFFF"/>
<rect x="795" y="385" width="1" height="80" fill="#8E8A92"/>
<rect x="801" y="383" width="1" height="82" fill="#808080"/>
<rect x="804" y="409" width="2" height="1" fill="#808080"/>
<rect x="804" y="448" width="3" height="1" fill="#808080"/>
<text x="8.5" y="403" fill="#000" font-size="12" font-weight="bold" text-anchor="start" textLength="39.71" lengthAdjust="spacingAndGlyphs">Sensor</text>
<text x="8.5" y="419" fill="#000" font-size="12" font-weight="bold" text-anchor="start" textLength="47.60" lengthAdjust="spacingAndGlyphs">MinWert</text>
<text x="8.5" y="435" fill="#000" font-size="12" font-weight="bold" text-anchor="start" textLength="50.70" lengthAdjust="spacingAndGlyphs">MaxWert</text>
<text x="8.5" y="451" fill="#000" font-size="12" font-weight="bold" text-anchor="start" textLength="73.10" lengthAdjust="spacingAndGlyphs">Durchschnitt</text>
<text x="8.5" y="467" fill="#000" font-size="12" font-weight="bold" text-anchor="start" textLength="71.80" lengthAdjust="spacingAndGlyphs">25.10. 23:55</text>
<text x="95" y="403" fill="#000" font-size="12" font-weight="bold" text-anchor="start" textLength="50.60" lengthAdjust="spacingAndGlyphs">Temp. A.</text>
<text x="198.5" y="403" fill="#000" font-size="12" font-weight="bold" text-anchor="end" textLength="13.40" lengthAdjust="spacingAndGlyphs">°C</text>
<text x="100.3" y="419" fill="#000" font-size="12.5" text-anchor="start" textLength="27.56" lengthAdjust="spacingAndGlyphs">23:55</text>
<text x="198.5" y="419" fill="#000" font-size="12.5" text-anchor="end" textLength="15.31" lengthAdjust="spacingAndGlyphs">6.7</text>
<text x="100.3" y="435" fill="#000" font-size="12.5" text-anchor="start" textLength="27.56" lengthAdjust="spacingAndGlyphs">15:10</text>
<text x="198.5" y="435" fill="#000" font-size="12.5" text-anchor="end" textLength="21.44" lengthAdjust="spacingAndGlyphs">15.7</text>
<text x="198.5" y="451" fill="#000" font-size="12.5" text-anchor="end" textLength="27.56" lengthAdjust="spacingAndGlyphs">13.29</text>
<text x="198.5" y="467" fill="#000" font-size="12" font-weight="bold" text-anchor="end" textLength="19.80" lengthAdjust="spacingAndGlyphs">6.7</text>
<text x="212.5" y="403" fill="#000" font-size="12" font-weight="bold" text-anchor="start" textLength="62.20" lengthAdjust="spacingAndGlyphs">Feuchte A.</text>
<text x="316" y="403" fill="#000" font-size="12" font-weight="bold" text-anchor="end" textLength="10.18" lengthAdjust="spacingAndGlyphs">%</text>
<text x="218.3" y="419" fill="#000" font-size="12.5" text-anchor="start" textLength="27.56" lengthAdjust="spacingAndGlyphs">12:40</text>
<text x="315.5" y="419" fill="#000" font-size="12.5" text-anchor="end" textLength="12.25" lengthAdjust="spacingAndGlyphs">71</text>
<text x="218.3" y="435" fill="#000" font-size="12.5" text-anchor="start" textLength="27.56" lengthAdjust="spacingAndGlyphs">21:15</text>
<text x="315.5" y="435" fill="#000" font-size="12.5" text-anchor="end" textLength="12.25" lengthAdjust="spacingAndGlyphs">81</text>
<text x="315.5" y="451" fill="#000" font-size="12.5" text-anchor="end" textLength="12.25" lengthAdjust="spacingAndGlyphs">75</text>
<text x="215.3" y="467" fill="#000" font-size="12.5" text-anchor="start" textLength="46.50" lengthAdjust="spacingAndGlyphs">6.15 g/m³</text>
<text x="316" y="467" fill="#000" font-size="12" font-weight="bold" text-anchor="end" textLength="13.05" lengthAdjust="spacingAndGlyphs">81</text>
<text x="330.8" y="403" fill="#000" font-size="12" font-weight="bold" text-anchor="start" textLength="54.32" lengthAdjust="spacingAndGlyphs">Luftdruck</text>
<text x="434.3" y="403" fill="#000" font-size="12" font-weight="bold" text-anchor="end" textLength="21.39" lengthAdjust="spacingAndGlyphs">hPa</text>
<text x="336.6" y="419" fill="#000" font-size="12.5" text-anchor="start" textLength="27.56" lengthAdjust="spacingAndGlyphs">05:35</text>
<text x="434.3" y="419" fill="#000" font-size="12.5" text-anchor="end" textLength="33.69" lengthAdjust="spacingAndGlyphs">1028.5</text>
<text x="336.6" y="435" fill="#000" font-size="12.5" text-anchor="start" textLength="27.56" lengthAdjust="spacingAndGlyphs">20:55</text>
<text x="434.3" y="435" fill="#000" font-size="12.5" text-anchor="end" textLength="33.69" lengthAdjust="spacingAndGlyphs">1032.4</text>
<text x="330.8" y="451" fill="#000" font-size="12.5" text-anchor="start" textLength="49.25" lengthAdjust="spacingAndGlyphs">^0.9hPa/h</text>
<text x="434.3" y="451" fill="#000" font-size="12.5" text-anchor="end" textLength="33.69" lengthAdjust="spacingAndGlyphs">1030.4</text>
<text x="330.8" y="467" fill="#000" font-size="12.5" text-anchor="start" textLength="32.44" lengthAdjust="spacingAndGlyphs">sonnig</text>
<rect x="386" y="457" width="8" height="8" fill="#E4E4E4"/>
<rect x="389" y="458" width="1" height="7" fill="#E08020"/>
<rect x="390" y="458" width="1" height="7" fill="#101010"/>
<rect x="391" y="458" width="1" height="7" fill="#3090F0"/>
<rect x="387" y="463" width="2" height="2" fill="#C05010"/>
<rect x="392" y="463" width="2" height="2" fill="#1040C0"/>
<text x="434.3" y="467" fill="#000" font-size="12" font-weight="bold" text-anchor="end" textLength="39.80" lengthAdjust="spacingAndGlyphs">1031.4</text>
<text x="448.6" y="403" fill="#000" font-size="12" font-weight="bold" text-anchor="start" textLength="30.20" lengthAdjust="spacingAndGlyphs">Wind</text>
<text x="552.8" y="403" fill="#000" font-size="12" font-weight="bold" text-anchor="end" textLength="30.00" lengthAdjust="spacingAndGlyphs">km/h</text>
<text x="448.6" y="419" fill="#000" font-size="12.5" text-anchor="start" textLength="44.50" lengthAdjust="spacingAndGlyphs">Ø 10 min.</text>
<text x="552.8" y="419" fill="#000" font-size="12.5" text-anchor="end" textLength="15.31" lengthAdjust="spacingAndGlyphs">0.3</text>
<text x="454.6" y="435" fill="#000" font-size="12.5" text-anchor="start" textLength="27.56" lengthAdjust="spacingAndGlyphs">15:00</text>
<text x="552.8" y="435" fill="#000" font-size="12.5" text-anchor="end" textLength="34.28" lengthAdjust="spacingAndGlyphs">SO 4.7</text>
<text x="552.8" y="451" fill="#000" font-size="12.5" text-anchor="end" textLength="15.31" lengthAdjust="spacingAndGlyphs">1.1</text>
<text x="454.6" y="467" fill="#000" font-size="12.5" text-anchor="start" textLength="53.30" lengthAdjust="spacingAndGlyphs">0 Bft S-SW</text>
<text x="552.8" y="467" fill="#000" font-size="12" font-weight="bold" text-anchor="end" textLength="19.60" lengthAdjust="spacingAndGlyphs">0.3</text>
<text x="566.8" y="403" fill="#000" font-size="12" font-weight="bold" text-anchor="start" textLength="51.70" lengthAdjust="spacingAndGlyphs">Richtung</text>
<text x="572.4" y="419" fill="#000" font-size="12.5" text-anchor="start" textLength="27.56" lengthAdjust="spacingAndGlyphs">07:45</text>
<text x="669.8" y="419" fill="#000" font-size="12.5" text-anchor="end" textLength="28.09" lengthAdjust="spacingAndGlyphs">N-NO</text>
<text x="572.4" y="435" fill="#000" font-size="12.5" text-anchor="start" textLength="27.56" lengthAdjust="spacingAndGlyphs">00:25</text>
<text x="669.8" y="435" fill="#000" font-size="12.5" text-anchor="end" textLength="7.94" lengthAdjust="spacingAndGlyphs">N</text>
<text x="669.8" y="451" fill="#000" font-size="12.5" text-anchor="end" textLength="28.72" lengthAdjust="spacingAndGlyphs">S-SW</text>
<text x="570.3" y="467" fill="#000" font-size="12.5" text-anchor="start" textLength="25.84" lengthAdjust="spacingAndGlyphs">202 °</text>
<text x="669.8" y="467" fill="#000" font-size="12" font-weight="bold" text-anchor="end" textLength="31.20" lengthAdjust="spacingAndGlyphs">S-SW</text>
<text x="684.8" y="403" fill="#000" font-size="12" font-weight="bold" text-anchor="start" textLength="58.10" lengthAdjust="spacingAndGlyphs">Windböen</text>
<text x="788.3" y="403" fill="#000" font-size="12" font-weight="bold" text-anchor="end" textLength="30.00" lengthAdjust="spacingAndGlyphs">km/h</text>
<text x="684.8" y="419" fill="#000" font-size="12.5" text-anchor="start" textLength="44.50" lengthAdjust="spacingAndGlyphs">Ø 10 min.</text>
<text x="788.3" y="419" fill="#000" font-size="12.5" text-anchor="end" textLength="15.31" lengthAdjust="spacingAndGlyphs">1.2</text>
<text x="690.6" y="435" fill="#000" font-size="12.5" text-anchor="start" textLength="27.56" lengthAdjust="spacingAndGlyphs">12:50</text>
<text x="788.3" y="435" fill="#000" font-size="12.5" text-anchor="end" textLength="52.41" lengthAdjust="spacingAndGlyphs">S-SW 11.6</text>
<text x="788.3" y="451" fill="#000" font-size="12.5" text-anchor="end" textLength="15.31" lengthAdjust="spacingAndGlyphs">1.6</text>
<text x="690.6" y="467" fill="#000" font-size="12.5" text-anchor="start" textLength="53.30" lengthAdjust="spacingAndGlyphs">0 Bft S-SW</text>
<text x="788.3" y="467" fill="#000" font-size="12" font-weight="bold" text-anchor="end" textLength="16.51" lengthAdjust="spacingAndGlyphs">0.0</text>
</svg>
</body></html>
